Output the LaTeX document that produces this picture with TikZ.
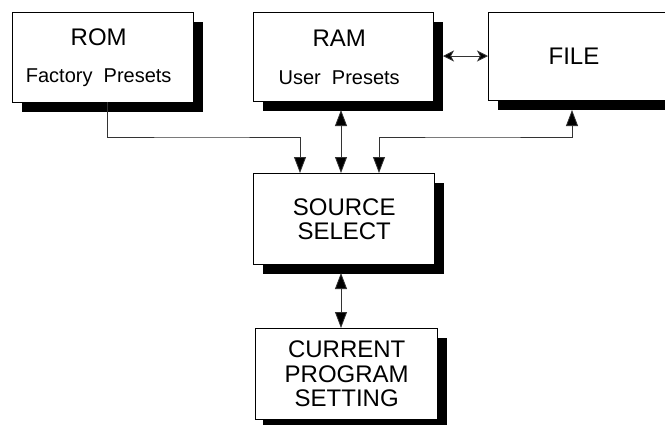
\documentclass[tikz,border=0pt]{standalone}
\usepackage{fontspec}
\setmainfont{Liberation Sans}
\usetikzlibrary{arrows.meta,calc,shadows}

\newcommand{\bigtxt}{\fontsize{24}{24.5}\selectfont}
\newcommand{\smalltxt}{\fontsize{20}{24}\selectfont}
\newcommand{\lft}{\hspace*{9pt}}

\tikzset{
  block/.style={draw, line width=1.4pt, fill=white, inner sep=0pt,
    anchor=north west, align=center, font=\bigtxt,
    drop shadow={shadow xshift=9pt, shadow yshift=-9pt, fill=black, opacity=1}},
  link/.style={line width=0.8pt, draw=black!80},
  head/.tip={Triangle[length=16pt,width=12pt,fill=black]},
  sidehead/.tip={Stealth[length=11pt,width=11pt,inset=3pt,fill=black]},
  tip/.style={-head},
  both/.style={head-head},
  sidewise/.style={sidehead-sidehead},
}

\begin{document}
\begin{tikzpicture}[x=1pt,y=-1pt]
  \useasboundingbox (0,0) rectangle (665,424);
  \clip (0,0) rectangle (665,424);

  % storage blocks across the top
  \node[block, minimum width=181pt, minimum height=90pt] (rom) at (12,12)
    {ROM\lft\\[13pt]\smalltxt Factory\ \ Presets\lft};
  \node[block, minimum width=180pt, minimum height=89pt] (ram) at (253,12)
    {RAM\lft\\[13pt]\smalltxt User\ \ Presets\lft};
  \node[block, minimum width=200pt, minimum height=88pt] (file) at (488,12) {};
  \node[font=\bigtxt, inner sep=0pt] (filelbl) at (574,56.5) {FILE};

  % selector and current setting
  \node[block, minimum width=181pt, minimum height=91pt] (src) at (253,173)
    {SOURCE\\SELECT};
  \node[block, minimum width=182pt, minimum height=91pt,
    drop shadow={shadow xshift=7pt, shadow yshift=-9pt, fill=black, opacity=1}] (cur) at (255,328)
    {CURRENT\\PROGRAM\\SETTING};

  % connection points
  \coordinate (romout) at (107,102);
  \coordinate (romin)  at (300,173);
  \coordinate (ramio)  at (341,110);
  \coordinate (srcram) at (341,173);
  \coordinate (fileio) at (572,110);
  \coordinate (srcfile) at (379,173);
  \coordinate (srcdn)  at (341,273);
  \coordinate (curup)  at (341,328);
  \coordinate (ramrt)  at (443,56);
  \coordinate (filelt) at (488,56);

  % connectors
  \draw[link, tip] (romout) |- (200,137) -| (romin);
  \draw[link, both] (srcram) -- (ramio);
  \draw[link, both] (fileio) |- (470,137) -| (srcfile);
  \draw[link, sidewise] (ramrt) -- (filelt);
  \draw[link, both] (srcdn) -- (curup);
\end{tikzpicture}
\end{document}
